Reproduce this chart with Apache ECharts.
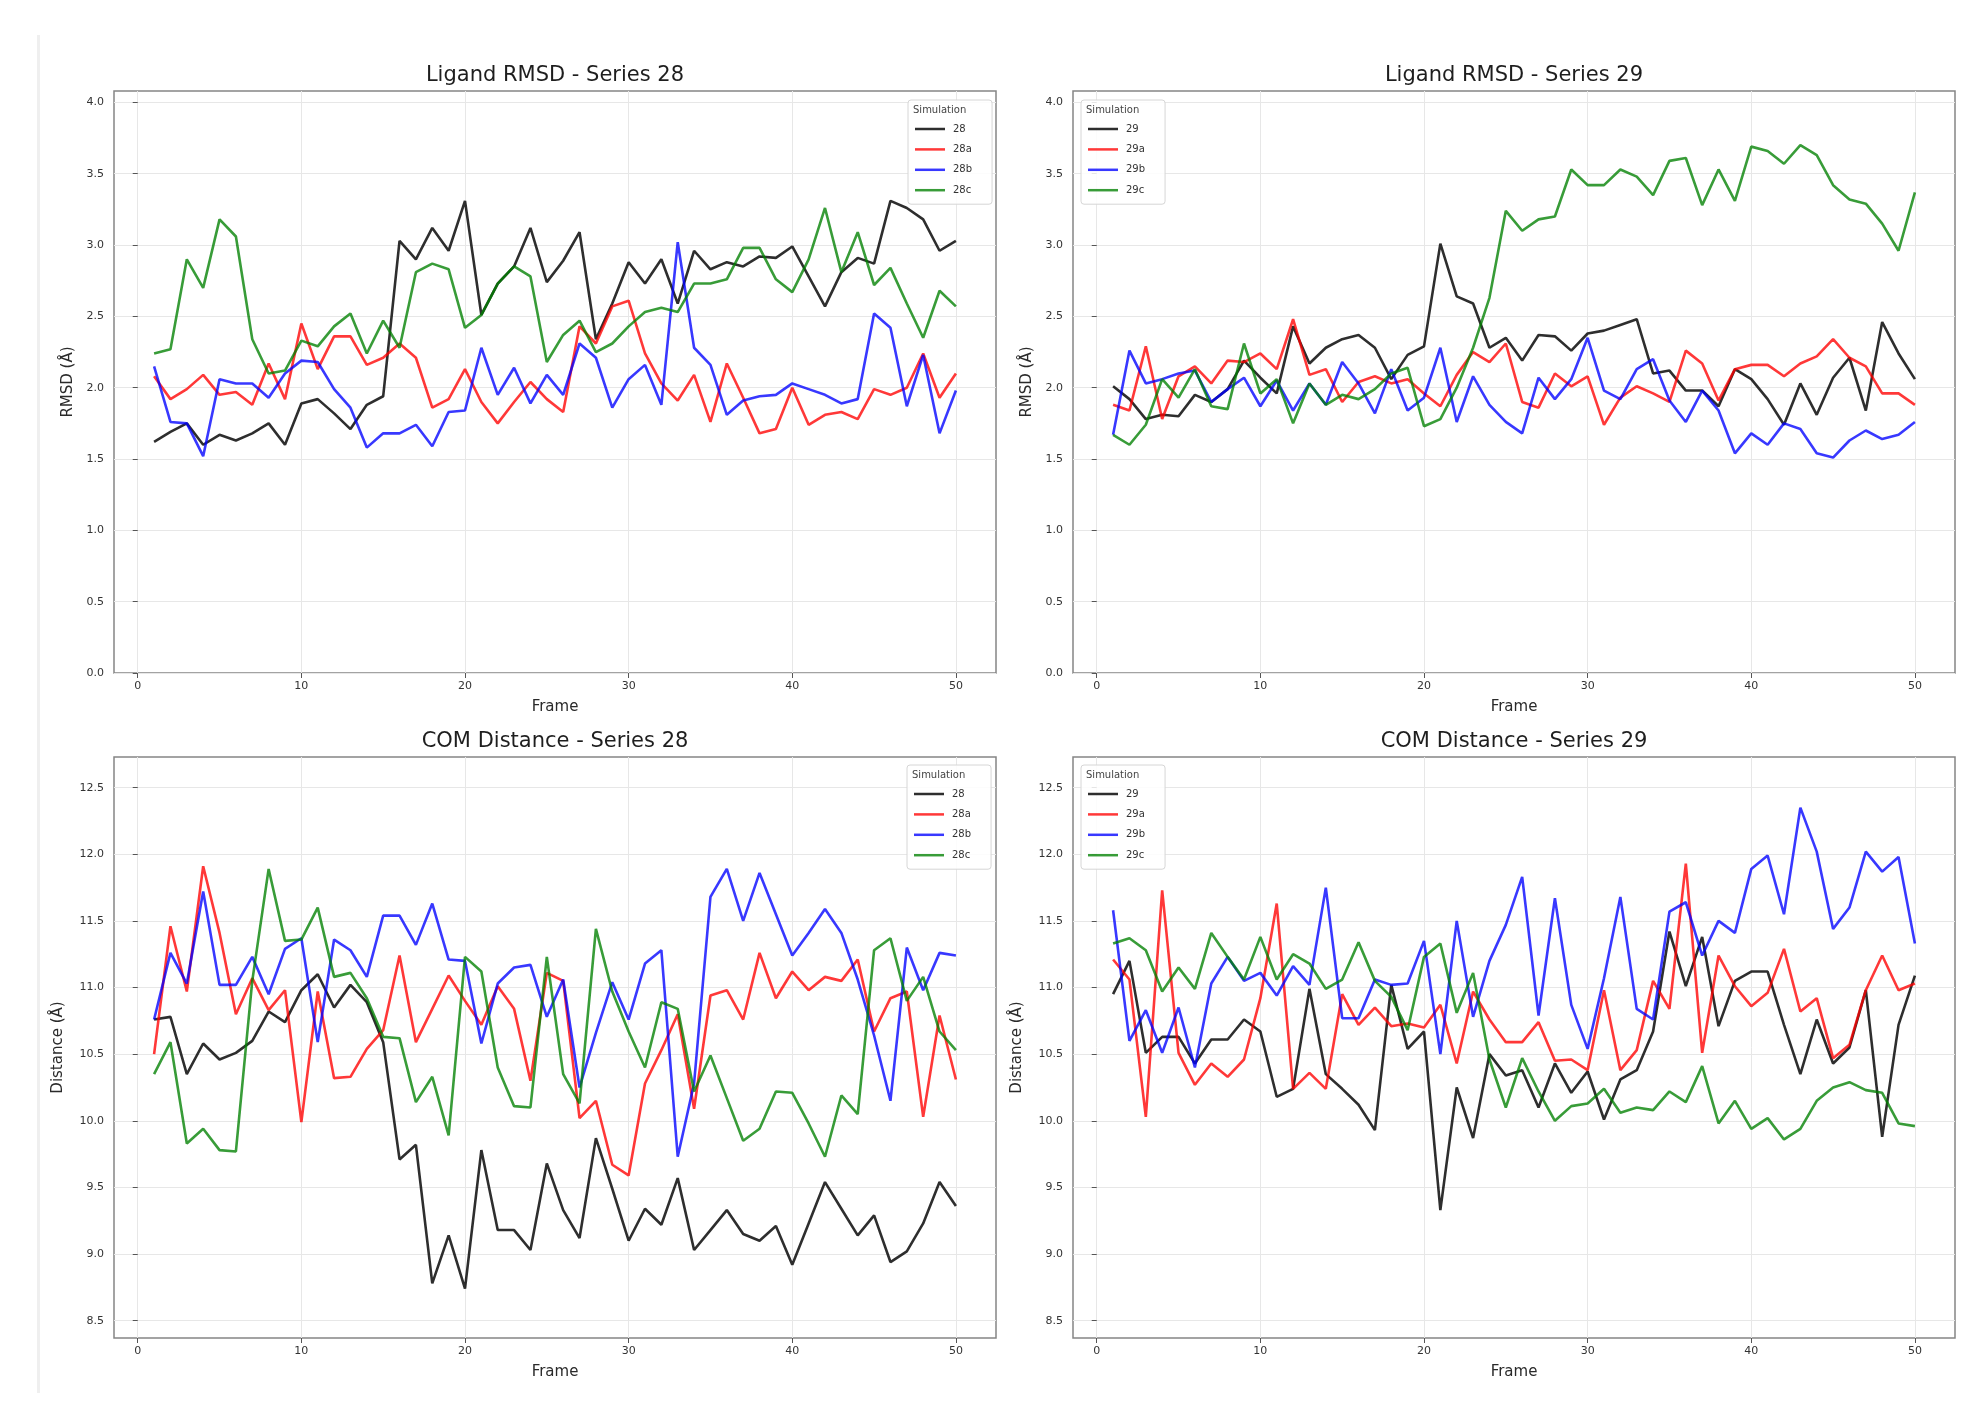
<!DOCTYPE html>
<html>
<head>
<meta charset="utf-8">
<script src="https://cdn.jsdelivr.net/npm/echarts@6/dist/echarts.min.js"></script>
<style>
html,body{margin:0;padding:0;background:#fff;}
#c{width:1986px;height:1427px;}
</style>
</head>
<body>
<div id="c"></div>
<script>
// ---------- data ----------
const frames = [1,2,3,4,5,6,7,8,9,10,11,12,13,14,15,16,17,18,19,20,21,22,23,24,25,26,27,28,29,30,31,32,33,34,35,36,37,38,39,40,41,42,43,44,45,46,47,48,49,50];

const panelTitles = ['Ligand RMSD - Series 28','Ligand RMSD - Series 29','COM Distance - Series 28','COM Distance - Series 29'];
const names28 = ['28','28a','28b','28c'];
const names29 = ['29','29a','29b','29c'];
const xTicks = [0,10,20,30,40,50];
const rmsdTicks = [0,0.5,1.0,1.5,2.0,2.5,3.0,3.5,4.0];
const comTicks = [8.5,9.0,9.5,10.0,10.5,11.0,11.5,12.0,12.5];

// Ligand RMSD - Series 28
const rmsd28  = [1.62,1.69,1.75,1.60,1.67,1.63,1.68,1.75,1.60,1.89,1.92,1.82,1.71,1.88,1.94,3.03,2.90,3.12,2.96,3.31,2.51,2.73,2.85,3.12,2.74,2.89,3.09,2.34,2.59,2.88,2.73,2.90,2.59,2.96,2.83,2.88,2.85,2.92,2.91,2.99,2.78,2.57,2.81,2.91,2.87,3.31,3.26,3.18,2.96,3.03];
const rmsd28a = [2.08,1.92,1.99,2.09,1.95,1.97,1.88,2.17,1.92,2.45,2.13,2.36,2.36,2.16,2.21,2.31,2.21,1.86,1.92,2.13,1.90,1.75,1.90,2.04,1.92,1.83,2.43,2.31,2.57,2.61,2.24,2.03,1.91,2.09,1.76,2.17,1.93,1.68,1.71,2.00,1.74,1.81,1.83,1.78,1.99,1.95,2.00,2.24,1.93,2.10];
const rmsd28b = [2.15,1.76,1.75,1.52,2.06,2.03,2.03,1.93,2.10,2.19,2.18,1.99,1.86,1.58,1.68,1.68,1.74,1.59,1.83,1.84,2.28,1.95,2.14,1.89,2.09,1.95,2.31,2.21,1.86,2.06,2.16,1.88,3.02,2.28,2.16,1.81,1.91,1.94,1.95,2.03,1.99,1.95,1.89,1.92,2.52,2.42,1.87,2.23,1.68,1.98];
const rmsd28c = [2.24,2.27,2.90,2.70,3.18,3.06,2.34,2.10,2.12,2.33,2.29,2.43,2.52,2.24,2.47,2.28,2.81,2.87,2.83,2.42,2.51,2.73,2.85,2.78,2.18,2.37,2.47,2.25,2.31,2.43,2.53,2.56,2.53,2.73,2.73,2.76,2.98,2.98,2.76,2.67,2.90,3.26,2.81,3.09,2.72,2.84,2.59,2.35,2.68,2.57];

// Ligand RMSD - Series 29
const rmsd29  = [2.01,1.92,1.78,1.81,1.80,1.95,1.90,1.99,2.19,2.07,1.96,2.43,2.17,2.28,2.34,2.37,2.28,2.06,2.23,2.29,3.01,2.64,2.59,2.28,2.35,2.19,2.37,2.36,2.26,2.38,2.40,2.44,2.48,2.10,2.12,1.98,1.98,1.87,2.13,2.06,1.92,1.74,2.03,1.81,2.07,2.21,1.84,2.46,2.24,2.06];
const rmsd29a = [1.88,1.84,2.29,1.78,2.08,2.15,2.03,2.19,2.18,2.24,2.13,2.48,2.09,2.13,1.90,2.04,2.08,2.03,2.06,1.96,1.87,2.09,2.25,2.18,2.31,1.90,1.86,2.10,2.01,2.08,1.74,1.93,2.01,1.96,1.90,2.26,2.17,1.91,2.13,2.16,2.16,2.08,2.17,2.22,2.34,2.21,2.15,1.96,1.96,1.88];
const rmsd29b = [1.67,2.26,2.03,2.06,2.10,2.12,1.90,1.99,2.07,1.87,2.05,1.84,2.03,1.88,2.18,2.03,1.82,2.13,1.84,1.93,2.28,1.76,2.08,1.88,1.76,1.68,2.07,1.92,2.06,2.35,1.98,1.92,2.13,2.20,1.91,1.76,1.98,1.84,1.54,1.68,1.60,1.75,1.71,1.54,1.51,1.63,1.70,1.64,1.67,1.76];
const rmsd29c = [1.67,1.60,1.74,2.06,1.93,2.13,1.87,1.85,2.31,1.96,2.06,1.75,2.03,1.88,1.95,1.92,1.99,2.10,2.14,1.73,1.78,2.00,2.28,2.63,3.24,3.10,3.18,3.20,3.53,3.42,3.42,3.53,3.48,3.35,3.59,3.61,3.28,3.53,3.31,3.69,3.66,3.57,3.70,3.63,3.42,3.32,3.29,3.15,2.96,3.37];

// COM Distance - Series 28
const com28  = [10.76,10.78,10.35,10.58,10.46,10.51,10.60,10.82,10.74,10.98,11.10,10.85,11.02,10.89,10.59,9.71,9.82,8.78,9.14,8.74,9.78,9.18,9.18,9.03,9.68,9.33,9.12,9.87,9.49,9.10,9.34,9.22,9.57,9.03,9.18,9.33,9.15,9.10,9.21,8.92,9.23,9.54,9.34,9.14,9.29,8.94,9.02,9.23,9.54,9.36];
const com28a = [10.50,11.46,10.97,11.91,11.41,10.80,11.07,10.83,10.98,9.99,10.97,10.32,10.33,10.54,10.68,11.24,10.59,10.84,11.09,10.90,10.72,11.01,10.84,10.30,11.11,11.05,10.02,10.15,9.67,9.59,10.28,10.53,10.80,10.09,10.94,10.98,10.76,11.26,10.92,11.12,10.98,11.08,11.05,11.21,10.67,10.92,10.97,10.03,10.79,10.31];
const com28b = [10.76,11.26,11.03,11.72,11.02,11.02,11.23,10.95,11.29,11.37,10.59,11.36,11.28,11.08,11.54,11.54,11.32,11.63,11.21,11.20,10.58,11.03,11.15,11.17,10.78,11.06,10.25,10.66,11.04,10.76,11.18,11.28,9.73,10.28,11.68,11.89,11.50,11.86,11.55,11.24,11.41,11.59,11.41,11.06,10.64,10.15,11.30,10.98,11.26,11.24];
const com28c = [10.35,10.59,9.83,9.94,9.78,9.77,11.05,11.89,11.35,11.36,11.60,11.08,11.11,10.92,10.63,10.62,10.14,10.33,9.89,11.23,11.12,10.40,10.11,10.10,11.23,10.35,10.13,11.44,10.97,10.67,10.40,10.89,10.84,10.22,10.49,10.17,9.85,9.94,10.22,10.21,9.98,9.73,10.19,10.05,11.28,11.37,10.90,11.08,10.67,10.53];

// COM Distance - Series 29
const com29  = [10.95,11.20,10.51,10.63,10.63,10.43,10.61,10.61,10.76,10.67,10.18,10.24,10.99,10.35,10.24,10.12,9.93,11.02,10.54,10.67,9.33,10.25,9.87,10.50,10.34,10.38,10.10,10.43,10.21,10.37,10.01,10.31,10.38,10.67,11.42,11.01,11.38,10.71,11.05,11.12,11.12,10.72,10.35,10.76,10.43,10.55,10.98,9.88,10.72,11.09];
const com29a = [11.21,11.06,10.03,11.73,10.51,10.27,10.43,10.33,10.46,10.92,11.63,10.24,10.36,10.24,10.95,10.72,10.85,10.71,10.73,10.70,10.87,10.43,10.97,10.76,10.59,10.59,10.74,10.45,10.46,10.38,10.98,10.38,10.53,11.05,10.84,11.93,10.51,11.24,11.01,10.86,10.96,11.29,10.82,10.92,10.47,10.57,10.98,11.24,10.98,11.03];
const com29b = [11.58,10.60,10.83,10.51,10.85,10.40,11.03,11.23,11.05,11.11,10.94,11.16,11.02,11.75,10.77,10.77,11.06,11.02,11.03,11.35,10.50,11.50,10.78,11.20,11.47,11.83,10.79,11.67,10.87,10.54,11.07,11.68,10.84,10.76,11.57,11.64,11.24,11.50,11.41,11.89,11.99,11.55,12.35,12.02,11.44,11.60,12.02,11.87,11.98,11.33];
const com29c = [11.33,11.37,11.28,10.97,11.15,10.99,11.41,11.23,11.06,11.38,11.06,11.25,11.18,10.99,11.06,11.34,11.05,10.93,10.68,11.23,11.33,10.81,11.11,10.46,10.10,10.47,10.22,10.00,10.11,10.13,10.24,10.06,10.10,10.08,10.22,10.14,10.41,9.98,10.15,9.94,10.02,9.86,9.94,10.15,10.25,10.29,10.23,10.21,9.98,9.96];

// ---------- layout / style ----------
const FONT = 'DejaVu Sans';
const colors = ['rgba(0,0,0,0.82)','rgba(255,0,0,0.78)','rgba(0,0,255,0.78)','rgba(0,128,0,0.78)'];
const panels = [
  {names:names28, data:[rmsd28,rmsd28a,rmsd28b,rmsd28c], kind:'rmsd', left:114, top:91, h:582, legendLeft:908, legendTop:100},
  {names:names29, data:[rmsd29,rmsd29a,rmsd29b,rmsd29c], kind:'rmsd', left:1073, top:91, h:582, legendLeft:1081, legendTop:100},
  {names:names28, data:[com28,com28a,com28b,com28c], kind:'com', left:114, top:757, h:581, legendLeft:907, legendTop:765},
  {names:names29, data:[com29,com29a,com29b,com29c], kind:'com', left:1073, top:757, h:581, legendLeft:1081, legendTop:765}
];
const W = 882;

const grid = [], xAxis = [], yAxis = [], series = [], legend = [], graphic = [];

graphic.push({type:'rect', shape:{x:37, y:35, width:3, height:1358}, style:{fill:'#efefef'}, silent:true});

panels.forEach((p, i) => {
  grid.push({left:p.left, top:p.top, width:W, height:p.h, show:true, borderColor:'#858585', borderWidth:1.5, backgroundColor:'transparent', containLabel:false});
  xAxis.push({
    gridIndex:i, type:'value', min:-1.45, max:52.45,
    name:'Frame', nameLocation:'middle', nameGap:27,
    nameTextStyle:{fontFamily:FONT, fontSize:15, color:'#2a2a2a'},
    axisLine:{show:false},
    axisTick:{show:true, length:5, customValues:xTicks, lineStyle:{color:'#555'}},
    axisLabel:{customValues:xTicks, margin:8, fontFamily:FONT, fontSize:11, color:'#333'},
    splitLine:{show:true, lineStyle:{color:'#e7e7e7', width:1}}
  });
  const isR = p.kind === 'rmsd';
  const yt = isR ? rmsdTicks : comTicks;
  yAxis.push({
    gridIndex:i, type:'value',
    min: isR ? 0 : 8.37, max: isR ? 4.08 : 12.73,
    name: isR ? 'RMSD (Å)' : 'Distance (Å)', nameLocation:'middle', nameGap: isR ? 38 : 48,
    nameTextStyle:{fontFamily:FONT, fontSize:15, color:'#2a2a2a'},
    axisLine:{show:false},
    axisTick:{show:true, length:5, customValues:yt, lineStyle:{color:'#555'}},
    axisLabel:{customValues:yt, margin:10, fontFamily:FONT, fontSize:11, color:'#333', formatter:v => Number(v).toFixed(1)},
    splitLine:{show:true, lineStyle:{color:'#e7e7e7', width:1}}
  });
  p.names.forEach((nm, k) => {
    series.push({
      type:'line', name:nm, xAxisIndex:i, yAxisIndex:i,
      data: frames.map((f, j) => [f, p.data[k][j]]),
      showSymbol:false, symbol:'none', smooth:false,
      lineStyle:{color:colors[k], width:2.6},
      itemStyle:{color:colors[k]},
      emphasis:{disabled:true}, animation:false, z:2
    });
  });
  legend.push({
    data:p.names, left:p.legendLeft, top:p.legendTop, orient:'vertical',
    icon:'rect', itemWidth:30, itemHeight:2.5, itemGap:8.4,
    padding:[23, 20, 8, 7],
    backgroundColor:'rgba(255,255,255,0.85)', borderColor:'#d6d6d6', borderWidth:1, borderRadius:3,
    textStyle:{fontFamily:FONT, fontSize:10, color:'#333', lineHeight:12, padding:[0,0,0,3]},
    selectedMode:false, z:5
  });
  graphic.push({
    type:'text', x:p.left + W/2, y:p.top - 15, z:10,
    style:{text:panelTitles[i], fontFamily:FONT, fontSize:21, fill:'#1e1e1e', textAlign:'center', textVerticalAlign:'middle'}
  });
  graphic.push({
    type:'text', x:p.legendLeft + 5, y:p.legendTop + 10, z:10,
    style:{text:'Simulation', fontFamily:FONT, fontSize:10, fill:'#444', textAlign:'left', textVerticalAlign:'middle'}
  });
});

const chart = echarts.init(document.getElementById('c'), null, {renderer:'canvas', width:1986, height:1427});
chart.setOption({
  backgroundColor:'#ffffff',
  animation:false,
  grid, xAxis, yAxis, series, legend, graphic
});
</script>
</body>
</html>
